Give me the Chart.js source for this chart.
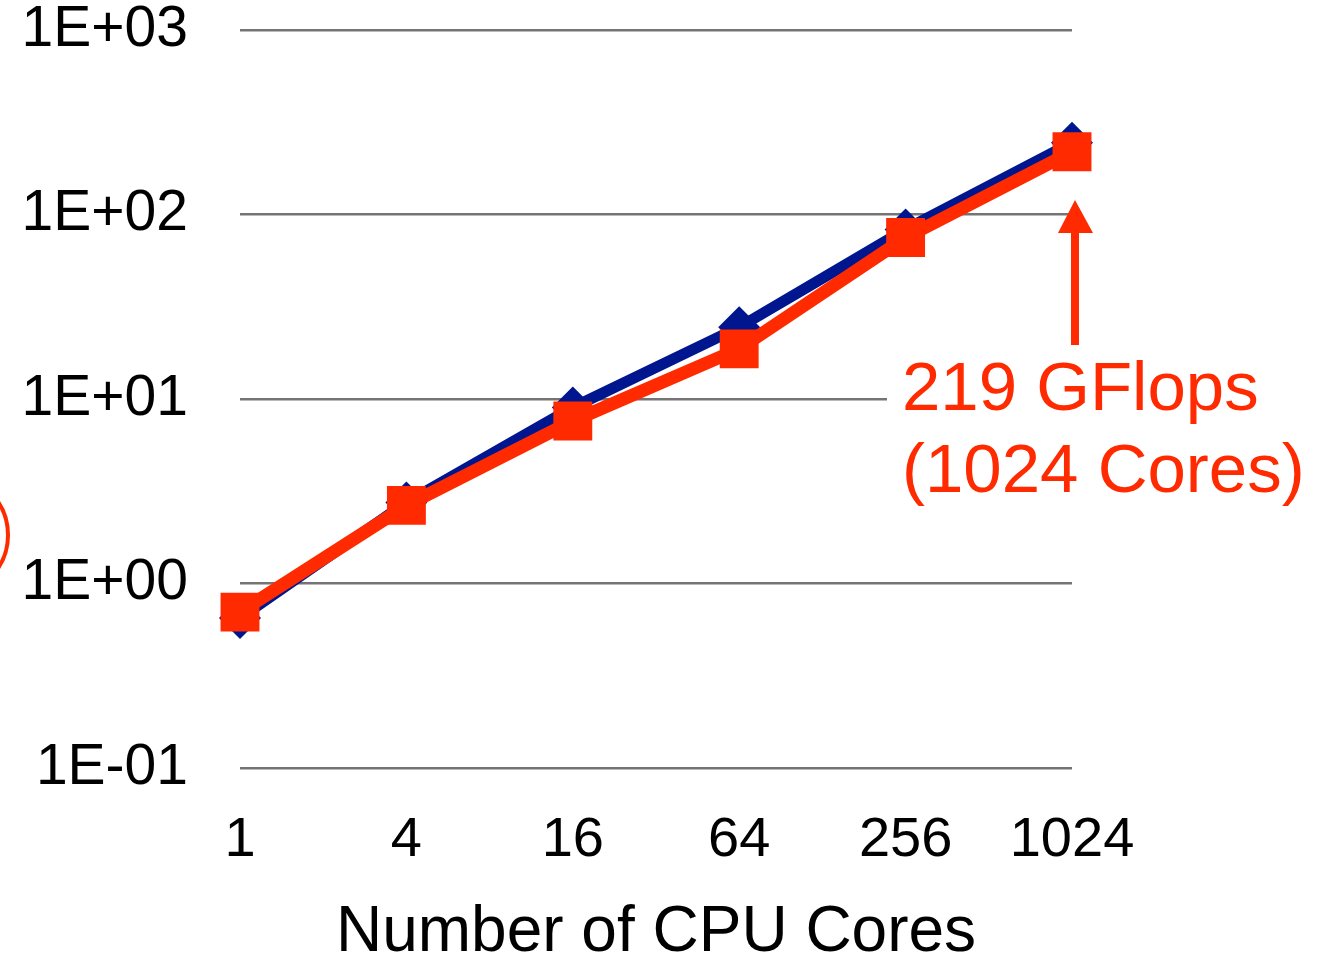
<!DOCTYPE html>
<html>
<head>
<meta charset="utf-8">
<script src="https://cdn.jsdelivr.net/npm/chart.js@4.4.1/dist/chart.umd.min.js"></script>
<style>
  html, body { margin: 0; padding: 0; background: #fff; }
  canvas { display: block; }
</style>
</head>
<body>
<canvas id="myChart" width="1326" height="957"></canvas>
<script>
// Data
const coreLabels = ['1', '4', '16', '64', '256', '1024'];
const blueValues = [0.65, 2.75, 9.0, 24.5, 83, 245];   // diamonds
const redValues = [0.70, 2.65, 7.6, 18.7, 75, 219];    // squares
const yTicks = [0.1, 1, 10, 100, 1000];

const RED = '#ff2a00';
const BLUE = '#00168f';
const FONT = "'Liberation Sans', Arial, Helvetica, sans-serif";

function expLabel(v) {
  const e = Math.round(Math.log10(v));
  return '1E' + (e < 0 ? '-' : '+') + String(Math.abs(e)).padStart(2, '0');
}

// Annotation: "219 GFlops (1024 Cores)" with arrow, plus cropped circle at left edge
const annotationPlugin = {
  id: 'annotation',
  beforeDatasetsDraw(chart) {
    const ctx = chart.ctx;
    // white box behind the text hides the end of the 1E+01 grid line
    const y10 = chart.scales.y.getPixelForValue(10);
    ctx.save();
    ctx.fillStyle = '#ffffff';
    ctx.fillRect(887, y10 - 6, 200, 12);
    ctx.restore();
  },
  afterDraw(chart) {
    const ctx = chart.ctx;
    const x = chart.scales.x.getPixelForValue(5) + 3;
    ctx.save();
    ctx.strokeStyle = RED;
    ctx.fillStyle = RED;
    ctx.lineWidth = 8;
    ctx.beginPath();
    ctx.moveTo(x, 345);
    ctx.lineTo(x, 228);
    ctx.stroke();
    ctx.beginPath();
    ctx.moveTo(x - 17, 233);
    ctx.lineTo(x + 18, 233);
    ctx.lineTo(x, 200);
    ctx.closePath();
    ctx.fill();

    ctx.font = '69px ' + FONT;
    ctx.textAlign = 'left';
    ctx.textBaseline = 'alphabetic';
    ctx.fillText('219 GFlops', 902, 410);
    ctx.fillText('(1024 Cores)', 902, 492);

    ctx.lineWidth = 4;
    ctx.beginPath();
    ctx.arc(-52, 535, 60, 0, Math.PI * 2);
    ctx.stroke();
    ctx.restore();
  }
};

const ctx = document.getElementById('myChart').getContext('2d');
new Chart(ctx, {
  type: 'line',
  data: {
    labels: coreLabels,
    datasets: [
      {
        label: 'Diamonds',
        data: blueValues,
        borderColor: BLUE,
        backgroundColor: BLUE,
        borderWidth: 11,
        pointStyle: 'rectRot',
        pointRadius: 21,
        pointBorderWidth: 0,
        tension: 0,
        order: 2
      },
      {
        label: 'Squares',
        data: redValues,
        borderColor: RED,
        backgroundColor: RED,
        borderWidth: 13,
        pointStyle: 'rect',
        pointRadius: 27.5,
        pointBorderWidth: 0,
        tension: 0,
        order: 1
      }
    ]
  },
  options: {
    responsive: false,
    animation: false,
    layout: {
      padding: { top: 30, right: 254, bottom: 0, left: 0 }
    },
    scales: {
      x: {
        offset: false,
        grid: { display: false },
        border: { display: false },
        ticks: {
          color: '#000',
          padding: 31,
          maxRotation: 0,
          font: { family: FONT, size: 56, lineHeight: 1.2 }
        },
        title: {
          display: true,
          text: 'Number of CPU Cores',
          color: '#000',
          padding: 0,
          font: { family: FONT, size: 64, lineHeight: 0.75 }
        },
        afterFit(scale) { scale.height = 189; }
      },
      y: {
        type: 'logarithmic',
        min: 0.1,
        max: 1000,
        grid: { color: '#747474', lineWidth: 2.5, drawTicks: false },
        border: { display: false },
        ticks: {
          color: '#000',
          padding: 52,
          font: { family: FONT, size: 57, lineHeight: 1.0 },
          callback: (v) => expLabel(v)
        },
        afterBuildTicks(scale) {
          scale.ticks = yTicks.map(v => ({ value: v }));
        },
        afterFit(scale) {
          scale.width = 240;
          scale.paddingTop = 0;
          scale.paddingBottom = 0;
        }
      }
    },
    plugins: {
      legend: { display: false },
      tooltip: { enabled: false }
    }
  },
  plugins: [annotationPlugin]
});
</script>
</body>
</html>
